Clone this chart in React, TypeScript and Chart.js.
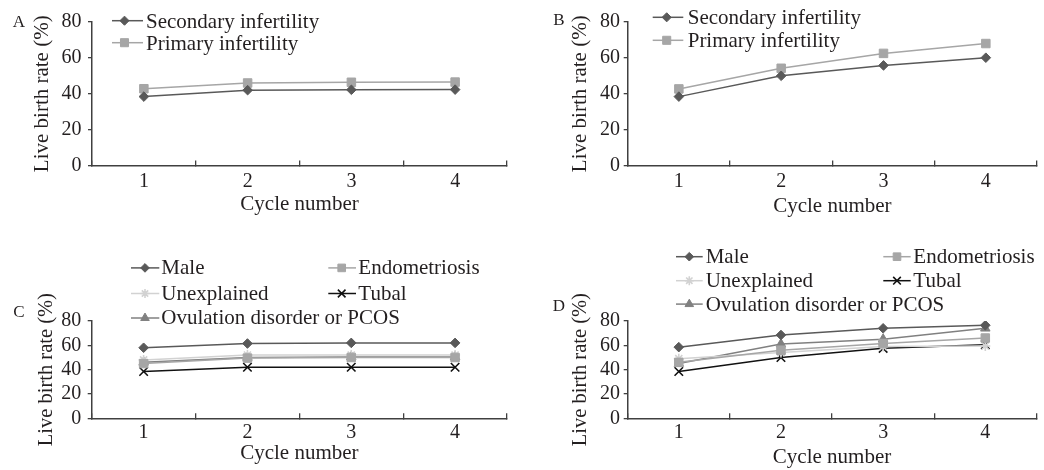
import React, { useEffect, useRef } from 'react';
import { Chart, registerables } from 'chart.js';

Chart.register(...registerables);

// ---------- data ----------
const cycleLabels = ['1', '2', '3', '4'];
const yMin = 0;
const yMax = 80;
const yStep = 20;

const aSecondary = [38.4, 42, 42.2, 42.3];
const aPrimary = [42.8, 46, 46.4, 46.5];

const bSecondary = [38.4, 50, 55.8, 60.1];
const bPrimary = [42.7, 54.2, 62.5, 68];

const cMale = [58, 61.5, 62, 62];
const cEndometriosis = [45, 49.5, 50, 50];
const cUnexplained = [48, 52, 52, 52];
const cTubal = [38.5, 42, 42, 42];
const cOvulation = [46, 50, 50.5, 50.5];

const dMale = [58.5, 68.5, 74, 76.5];
const dEndometriosis = [46, 56, 61.5, 66];
const dUnexplained = [49, 54, 59, 59.5];
const dTubal = [38.5, 50, 57.5, 60.5];
const dOvulation = [45, 61, 65, 74];

// ---------- styles ----------
const FONT = '"Liberation Serif", "Times New Roman", serif';
const TEXT = '#231f20';
const AXIS = '#404040';
const C_DARK = '#595959';
const C_LIGHT = '#a6a6a6';
const C_VLIGHT = '#d2d2d2';
const C_BLACK = '#111111';
const C_MID = '#808080';

type Style = 'rectRot' | 'rect' | 'star' | 'crossRot' | 'triangle';

function mkDs(label: string, data: number[], color: string, style: Style, radius: number) {
  return {
    label,
    data,
    borderColor: color,
    backgroundColor: color,
    borderWidth: 1.5,
    pointStyle: style,
    pointRadius: radius,
    pointHoverRadius: radius,
    pointBackgroundColor: color,
    pointBorderColor: color,
    pointBorderWidth: style === 'star' || style === 'crossRot' ? 1.6 : 1,
    tension: 0,
  };
}

function drawMarker(ctx: CanvasRenderingContext2D, style: Style, x: number, y: number, r: number, color: string) {
  ctx.save();
  ctx.fillStyle = color;
  ctx.strokeStyle = color;
  ctx.lineWidth = style === 'star' || style === 'crossRot' ? 1.6 : 1;
  ctx.beginPath();
  if (style === 'rectRot') {
    ctx.moveTo(x, y - r);
    ctx.lineTo(x + r, y);
    ctx.lineTo(x, y + r);
    ctx.lineTo(x - r, y);
    ctx.closePath();
    ctx.fill();
    ctx.stroke();
  } else if (style === 'rect') {
    const s = r * Math.SQRT1_2;
    ctx.rect(x - s, y - s, 2 * s, 2 * s);
    ctx.fill();
    ctx.stroke();
  } else if (style === 'triangle') {
    ctx.moveTo(x, y - r);
    ctx.lineTo(x + 0.866 * r, y + 0.5 * r);
    ctx.lineTo(x - 0.866 * r, y + 0.5 * r);
    ctx.closePath();
    ctx.fill();
    ctx.stroke();
  } else {
    const d = r * Math.SQRT1_2;
    ctx.moveTo(x - d, y - d);
    ctx.lineTo(x + d, y + d);
    ctx.moveTo(x + d, y - d);
    ctx.lineTo(x - d, y + d);
    if (style === 'star') {
      ctx.moveTo(x, y - r);
      ctx.lineTo(x, y + r);
      ctx.moveTo(x - r, y);
      ctx.lineTo(x + r, y);
    }
    ctx.stroke();
  }
  ctx.restore();
}

interface LegendCol { x0: number; x1: number; mx: number; tx: number; }
interface PanelLayout {
  left: number; top: number; w: number; h: number;
  padTop: number; padRight: number;
  yWidth: number; xHeight: number;
  yTickPad: number; xTickPad: number;
  yTitlePad: number; yTitleSize: number; xTitlePad: number;
  letter: string; letterX: number; letterY: number;
  rows: number[]; lineOffset: number; cols: LegendCol[]; markerScale: number;
}

function makeDecor(L: PanelLayout) {
  return {
    id: 'panelDecor' + L.letter,
    afterDraw(chart: any) {
      const ctx: CanvasRenderingContext2D = chart.ctx;
      ctx.save();
      ctx.font = `17px ${FONT}`;
      ctx.fillStyle = TEXT;
      ctx.textAlign = 'left';
      ctx.textBaseline = 'alphabetic';
      ctx.fillText(L.letter, L.letterX, L.letterY);
      const dsets = chart.data.datasets;
      const ncol = L.cols.length;
      dsets.forEach((d: any, i: number) => {
        const col = L.cols[i % ncol];
        const base = L.rows[Math.floor(i / ncol)];
        const ly = base - L.lineOffset;
        ctx.save();
        ctx.strokeStyle = d.borderColor;
        ctx.lineWidth = d.borderWidth;
        ctx.beginPath();
        ctx.moveTo(col.x0, ly);
        ctx.lineTo(col.x1, ly);
        ctx.stroke();
        ctx.restore();
        drawMarker(ctx, d.pointStyle, col.mx, ly, d.pointRadius * L.markerScale, d.pointBackgroundColor);
        ctx.font = `21px ${FONT}`;
        ctx.fillStyle = TEXT;
        ctx.textAlign = 'left';
        ctx.textBaseline = 'alphabetic';
        ctx.fillText(d.label, col.tx, base);
      });
      ctx.restore();
    },
  };
}

function buildConfig(L: PanelLayout, datasets: any[]) {
  return {
    type: 'line',
    data: { labels: cycleLabels, datasets },
    plugins: [makeDecor(L)],
    options: {
      responsive: false,
      animation: false,
      devicePixelRatio: 1,
      events: [],
      layout: { padding: { left: 0, right: L.padRight, top: L.padTop, bottom: 0 } },
      plugins: { legend: { display: false }, tooltip: { enabled: false } },
      scales: {
        x: {
          type: 'category',
          offset: true,
          grid: {
            display: true, offset: true, drawOnChartArea: false, drawTicks: true,
            tickLength: -5, color: AXIS, lineWidth: 1.3,
          },
          border: { display: true, color: AXIS, width: 1.5 },
          ticks: {
            font: { family: FONT, size: 20 }, color: TEXT, padding: L.xTickPad,
            maxRotation: 0, autoSkip: false,
          },
          title: {
            display: true, text: 'Cycle number', color: TEXT,
            font: { family: FONT, size: 21 }, padding: { top: 0, bottom: L.xTitlePad },
          },
          afterFit: (s: any) => { s.height = L.xHeight; },
        },
        y: {
          min: yMin, max: yMax,
          ticks: {
            stepSize: yStep, autoSkip: false, font: { family: FONT, size: 20 }, color: TEXT, padding: L.yTickPad,
          },
          grid: {
            display: true, drawOnChartArea: false, drawTicks: true,
            tickLength: 4, color: AXIS, lineWidth: 1.3,
          },
          border: { display: true, color: AXIS, width: 1.5 },
          title: {
            display: true, text: 'Live birth rate (%)', color: TEXT,
            font: { family: FONT, size: L.yTitleSize }, padding: { top: L.yTitlePad, bottom: 0 },
          },
          afterFit: (s: any) => { s.width = L.yWidth; },
        },
      },
    },
  };
}

// ---------- layouts ----------
const layoutA: PanelLayout = {
  left: 0, top: 0, w: 520, h: 235,
  padTop: 22, padRight: 13, yWidth: 92, xHeight: 69.5,
  yTickPad: 6.5, xTickPad: 9.5, yTitlePad: 29.4, yTitleSize: 21, xTitlePad: 17.5,
  letter: 'A', letterX: 12.7, letterY: 27,
  rows: [27.5, 49.5], lineOffset: 6.8,
  cols: [{ x0: 112, x1: 143, mx: 124.5, tx: 146 }], markerScale: 0.95,
};
const layoutB: PanelLayout = {
  left: 520, top: 0, w: 524, h: 235,
  padTop: 22, padRight: 2.3, yWidth: 107.7, xHeight: 69.5,
  yTickPad: 3.7, xTickPad: 9.5, yTitlePad: 47.9, yTitleSize: 21, xTitlePad: 16,
  letter: 'B', letterX: 33.3, letterY: 25,
  rows: [24, 47], lineOffset: 6.7,
  cols: [{ x0: 132.7, x1: 163.3, mx: 146.7, tx: 167.7 }], markerScale: 0.95,
};
const layoutC: PanelLayout = {
  left: 0, top: 235, w: 520, h: 235,
  padTop: 86, padRight: 13, yWidth: 91.7, xHeight: 51.7,
  yTickPad: 6.5, xTickPad: 7, yTitlePad: 34.7, yTitleSize: 20.5, xTitlePad: 4,
  letter: 'C', letterX: 13.3, letterY: 81.7,
  rows: [38.9, 64.5, 89], lineOffset: 6,
  cols: [
    { x0: 131, x1: 159.3, mx: 145, tx: 161.3 },
    { x0: 328.3, x1: 356, mx: 341.7, tx: 358.3 },
  ], markerScale: 0.9,
};
const layoutD: PanelLayout = {
  left: 520, top: 235, w: 524, h: 235,
  padTop: 86, padRight: 2.3, yWidth: 107.7, xHeight: 51.7,
  yTickPad: 3.7, xTickPad: 7, yTitlePad: 48.2, yTitleSize: 20.5, xTitlePad: -0.5,
  letter: 'D', letterX: 32.7, letterY: 75.7,
  rows: [28.2, 52.2, 75.6], lineOffset: 6.5,
  cols: [
    { x0: 156, x1: 182.7, mx: 169.3, tx: 185.7 },
    { x0: 363.3, x1: 390.7, mx: 377, tx: 393.3 },
  ], markerScale: 0.9,
};

function twoGroup(sec: number[], pri: number[]) {
  return [
    mkDs('Secondary infertility', sec, C_DARK, 'rectRot', 4.8),
    mkDs('Primary infertility', pri, C_LIGHT, 'rect', 6),
  ];
}
function fiveGroup(male: number[], endo: number[], unexp: number[], tubal: number[], ovu: number[]) {
  return [
    mkDs('Male', male, C_DARK, 'rectRot', 4.8),
    mkDs('Endometriosis', endo, C_LIGHT, 'rect', 6),
    mkDs('Unexplained', unexp, C_VLIGHT, 'star', 5),
    mkDs('Tubal', tubal, C_BLACK, 'crossRot', 6),
    mkDs('Ovulation disorder or PCOS', ovu, C_MID, 'triangle', 5.5),
  ];
}

function Panel({ L, datasets }: { L: PanelLayout; datasets: any[] }) {
  const ref = useRef<HTMLCanvasElement | null>(null);
  useEffect(() => {
    if (!ref.current) return;
    const chart = new Chart(ref.current, buildConfig(L, datasets) as any);
    return () => chart.destroy();
  }, []);
  return (
    <canvas
      ref={ref}
      width={L.w}
      height={L.h}
      style={{ position: 'absolute', left: L.left, top: L.top, width: L.w, height: L.h }}
    />
  );
}

export default function App() {
  return (
    <div style={{ position: 'absolute', left: 0, top: 0, width: 1044, height: 470, background: '#fff', overflow: 'hidden' }}>
      <Panel L={layoutA} datasets={twoGroup(aSecondary, aPrimary)} />
      <Panel L={layoutB} datasets={twoGroup(bSecondary, bPrimary)} />
      <Panel L={layoutC} datasets={fiveGroup(cMale, cEndometriosis, cUnexplained, cTubal, cOvulation)} />
      <Panel L={layoutD} datasets={fiveGroup(dMale, dEndometriosis, dUnexplained, dTubal, dOvulation)} />
    </div>
  );
}
